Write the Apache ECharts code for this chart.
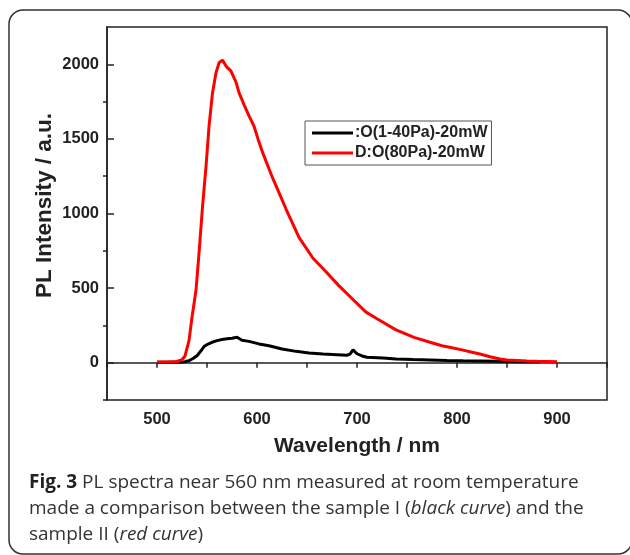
<!DOCTYPE html>
<html>
<head>
<meta charset="utf-8">
<script src="https://cdn.jsdelivr.net/npm/echarts@6/dist/echarts.min.js"></script>
<style>html,body{margin:0;padding:0;background:#fff;}#c{width:630px;height:555px;}</style>
</head>
<body>
<div id="c"></div>
<script>
// ---- data ----
const seriesNames = [':O(1-40Pa)-20mW', 'D:O(80Pa)-20mW'];
const blackWl = [500, 520, 528, 532, 536, 540, 544, 547, 551, 555, 560, 565, 570, 575, 580, 585, 592, 602, 612, 625, 639, 652, 666, 680, 690, 693, 696, 700, 705, 710, 726, 739, 756, 773, 790, 806, 823, 840, 860, 883];
const blackVal = [3, 3, 7, 13, 28, 47, 80, 108, 125, 137, 148, 155, 160, 164, 170, 150, 143, 126, 114, 92, 76, 65, 58, 54, 50, 58, 86, 60, 45, 37, 31, 25, 21, 18, 15, 13, 11, 9, 7, 6];
const redWl = [500, 510, 520, 525, 528, 532, 535, 539, 542, 545.5, 549, 552, 555.5, 559, 562, 565.5, 569, 574, 579, 582, 587, 592, 597, 601, 605, 615.5, 622, 629, 642, 656, 669, 682, 697, 709, 720, 739, 757, 773, 785, 795, 805, 815, 823, 833, 843, 850, 860, 870, 880, 890, 900];
const redVal = [5, 5, 8, 20, 45, 148, 305, 485, 733, 1045, 1314, 1583, 1808, 1943, 2010, 2028, 1988, 1954, 1880, 1810, 1730, 1655, 1585, 1500, 1420, 1240, 1140, 1030, 840, 700, 610, 515, 417, 339, 295, 220, 170, 137, 114, 100, 86, 70, 58, 40, 25, 18, 15, 11, 9, 8, 7];
const xTickValues = [450, 500, 550, 600, 650, 700, 750, 800, 850, 900, 950];
const xLabelValues = [500, 600, 700, 800, 900];
const yMajorValues = [0, 500, 1000, 1500, 2000];
const yMinorValues = [-250, 250, 750, 1250, 1750];
const xTitle = 'Wavelength / nm';
const yTitle = 'PL Intensity / a.u.';
const captionBold = 'Fig. 3';
const captionLines = [' PL spectra near 560 nm measured at room temperature', 'made a comparison between the sample I (', 'black curve', ') and the', 'sample II (', 'red curve', ')'];

function zip(a, b) { return a.map((v, i) => [v, b[i]]); }

const axisColor = '#222';
const labelFont = { fontFamily: 'Liberation Sans, Arial, sans-serif', fontWeight: 'bold', fontSize: 16.5, color: '#222' };

const chart = echarts.init(document.getElementById('c'), null, { renderer: 'canvas' });
chart.setOption({
  animation: false,
  backgroundColor: '#fff',
  title: {
    left: 24, top: 465,
    text: '{b|' + captionBold + '}' + captionLines[0] + '\n' + captionLines[1] + '{i|' + captionLines[2] + '}' + captionLines[3] + '\n' + captionLines[4] + '{i|' + captionLines[5] + '}' + captionLines[6],
    textStyle: {
      fontFamily: 'Open Sans, sans-serif', fontSize: 19, fontWeight: 'normal', color: '#333', lineHeight: 26,
      rich: {
        b: { fontFamily: 'Open Sans, sans-serif', fontSize: 19, fontWeight: 'bold', color: '#222', lineHeight: 26 },
        i: { fontFamily: 'Open Sans, sans-serif', fontSize: 19, fontStyle: 'italic', color: '#333', lineHeight: 26 }
      }
    }
  },
  graphic: [{
    type: 'rect', silent: true,
    shape: { x: 9, y: 10, width: 623, height: 544, r: 14 },
    style: { fill: 'none', stroke: '#333', lineWidth: 1.5 }
  }],
  grid: { left: 107, top: 27, right: 23, bottom: 155, show: true, borderColor: axisColor, borderWidth: 1.5, backgroundColor: 'transparent' },
  legend: {
    orient: 'vertical', left: 305, top: 121,
    data: seriesNames,
    icon: 'rect',
    itemWidth: 41, itemHeight: 3, itemGap: 4,
    padding: [4, 4, 4, 7],
    borderColor: '#555', borderWidth: 1,
    textStyle: { fontFamily: 'Liberation Sans, Arial, sans-serif', fontWeight: 'bold', fontSize: 16, color: '#222', lineHeight: 16, padding: [0, 0, 0, -3] }
  },
  xAxis: {
    type: 'value', min: 450, max: 950,
    name: xTitle, nameLocation: 'middle', nameGap: 36,
    nameTextStyle: { fontFamily: 'Liberation Sans, Arial, sans-serif', fontWeight: 'bold', fontSize: 21, color: '#222' },
    axisLine: { show: true, lineStyle: { color: axisColor, width: 1.5 } },
    axisTick: { show: true, inside: false, length: 5, customValues: xTickValues, lineStyle: { color: axisColor, width: 1.5 } },
    axisLabel: Object.assign({ customValues: xLabelValues, margin: 11, formatter: v => String(v) }, labelFont),
    splitLine: { show: false }
  },
  yAxis: [{
    type: 'value', min: -250, max: 2250, position: 'left',
    name: yTitle, nameLocation: 'middle', nameGap: 51, nameRotate: 90, nameMoveOverlap: false,
    nameTextStyle: { fontFamily: 'Liberation Sans, Arial, sans-serif', fontWeight: 'bold', fontSize: 22.5, color: '#222', padding: [0, 0, 0, 16] },
    axisLine: { show: true, lineStyle: { color: axisColor, width: 1.5 } },
    axisTick: { show: true, inside: true, length: 7, customValues: yMajorValues, lineStyle: { color: axisColor, width: 1.5 } },
    axisLabel: Object.assign({ customValues: yMajorValues, margin: 8, formatter: v => String(v) }, labelFont),
    splitLine: { show: false }
  }, {
    type: 'value', min: -250, max: 2250, position: 'left', offset: 0,
    axisLine: { show: false },
    axisTick: { show: true, inside: false, length: 4, customValues: yMinorValues, lineStyle: { color: axisColor, width: 1.5 } },
    axisLabel: { show: false },
    splitLine: { show: false }
  }],
  series: [{
    name: seriesNames[0], type: 'line', symbol: 'none', yAxisIndex: 0,
    data: zip(blackWl, blackVal),
    lineStyle: { color: '#000', width: 3 }, itemStyle: { color: '#000' }, z: 2
  }, {
    name: seriesNames[1], type: 'line', symbol: 'none', yAxisIndex: 0,
    data: zip(redWl, redVal),
    lineStyle: { color: '#ff0000', width: 3 }, itemStyle: { color: '#ff0000' }, z: 3
  }]
});
</script>
</body>
</html>
